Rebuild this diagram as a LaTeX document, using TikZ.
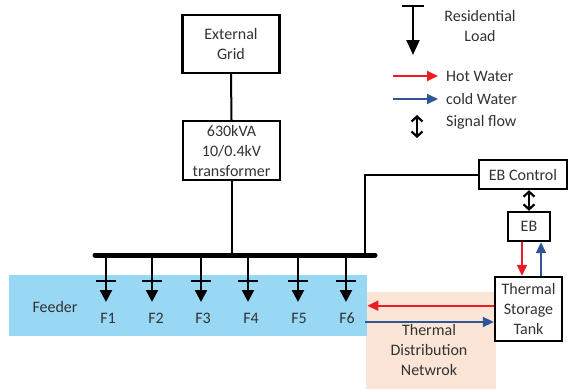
\documentclass[tikz,border=0pt]{standalone}
\usepackage{fontspec}
\setmainfont{Carlito}
\usetikzlibrary{arrows.meta}
\definecolor{hotred}{RGB}{237,28,36}
\definecolor{coldblue}{RGB}{47,85,151}
\definecolor{feederblue}{RGB}{153,216,245}
\definecolor{peach}{RGB}{251,229,214}
\definecolor{txtgray}{RGB}{50,50,50}
\begin{document}
\begin{tikzpicture}[x=1pt,y=-1pt,
  txt/.style={font=\fontsize{16}{20}\selectfont, text=txtgray, align=center, inner sep=0pt},
  box/.style={draw, line width=2.4pt, txt, inner sep=0pt},
  area/.style={inner sep=0pt, anchor=north west},
  wire/.style={line width=2pt},
  load/.style={line width=2.4pt, -{Triangle[length=12pt,width=12pt]}},
  bigload/.style={line width=2.2pt, -{Triangle[length=15pt,width=13pt]}},
  hot/.style={hotred, line width=2pt, -{Triangle[length=11pt,width=10pt]}},
  cold/.style={coldblue, line width=2pt, -{Triangle[length=11pt,width=10pt]}},
  sig/.style={line width=2.2pt, {Straight Barb[length=5pt,width=11pt]}-{Straight Barb[length=5pt,width=11pt]}},
  tickline/.style={line width=1.3pt}]

\useasboundingbox (0,0) rectangle (568,389);

% background areas
\node[area, fill=peach, minimum width=130pt, minimum height=97pt] (netarea) at (366,292) {};
\node[area, fill=feederblue, minimum width=358pt, minimum height=61pt] (feederarea) at (9,275) {};

% main boxes
\node[box, minimum width=97pt, minimum height=58pt] (grid) at (231,44) {External\\Grid};
\node[box, minimum width=97pt, minimum height=59pt] (trafo) at (231.5,150.5) {630kVA\\10/0.4kV\\transformer};
\node[box, minimum width=88pt, minimum height=29pt] (ebc) at (523,174.5) {EB Control};
\node[box, minimum width=42pt, minimum height=29pt] (eb) at (529,226.5) {EB};
\node[box, minimum width=67pt, minimum height=64pt] (tank) at (528.5,309) {Thermal\\Storage\\Tank};

% bus
\coordinate (busL) at (95,255);
\coordinate (busR) at (375,255);
\coordinate (tap) at (365,255);
\draw[wire] (grid.south) -- (trafo.north);
\draw[wire] (trafo.south) -- (trafo.south |- busL);
\draw[wire] (tap) |- (ebc.west);
\draw[line width=5pt, line cap=round] (busL) -- (busR);

% EB control / EB / tank
\draw[sig] (eb.north |- ebc.south) -- (eb.north);
\draw[hot] ([xshift=-7pt]eb.south) -- ([xshift=-7pt]eb.south |- tank.north);
\draw[cold] ([xshift=12.5pt]tank.north) -- ([xshift=12.5pt]tank.north |- eb.south);

% thermal network
\coordinate (netin) at (365,322);
\draw[hot] (tank.west |- feederarea.east) -- (feederarea.east);
\draw[cold] (netin) -- (netin -| tank.west);
\node[txt] (netlabel) at (429,350) {Thermal\\Distribution\\Netwrok};

% feeders
\node[txt] (feederlabel) at (55,307) {Feeder};
\foreach \x/\lx/\n in {106/108/1,152/156/2,201/203/3,248/251/4,298/299/5,346/347/6}{
  \coordinate (ft\n) at (\x,255);
  \coordinate (fb\n) at (\x,302);
  \coordinate (tl\n) at (\x-10,281);
  \coordinate (tr\n) at (\x+10,281);
  \draw[tickline] (tl\n) -- (tr\n);
  \draw[load] (ft\n) -- (fb\n);
  \node[txt] (flabel\n) at (\lx,318) {F\n};
}

% legend
\coordinate (rlt) at (413,6);
\coordinate (rlb) at (413,55);
\coordinate (rltl) at (402,6);
\coordinate (rltr) at (424,6);
\draw[tickline] (rltl) -- (rltr);
\draw[bigload] (rlt) -- (rlb);
\node[txt] (rllabel) at (480,26) {Residential\\Load};

\coordinate (hws) at (393,76);
\coordinate (hwe) at (438,76);
\draw[hot] (hws) -- (hwe);
\node[txt, anchor=west] (hwlabel) at (446,76) {Hot Water};

\coordinate (cws) at (393,99);
\coordinate (cwe) at (438,99);
\draw[cold] (cws) -- (cwe);
\node[txt, anchor=west] (cwlabel) at (446,99) {cold Water};

\coordinate (sft) at (417,115);
\coordinate (sfb) at (417,138);
\draw[sig] (sft) -- (sfb);
\node[txt, anchor=west] (sflabel) at (446,122) {Signal flow};
\end{tikzpicture}
\end{document}
